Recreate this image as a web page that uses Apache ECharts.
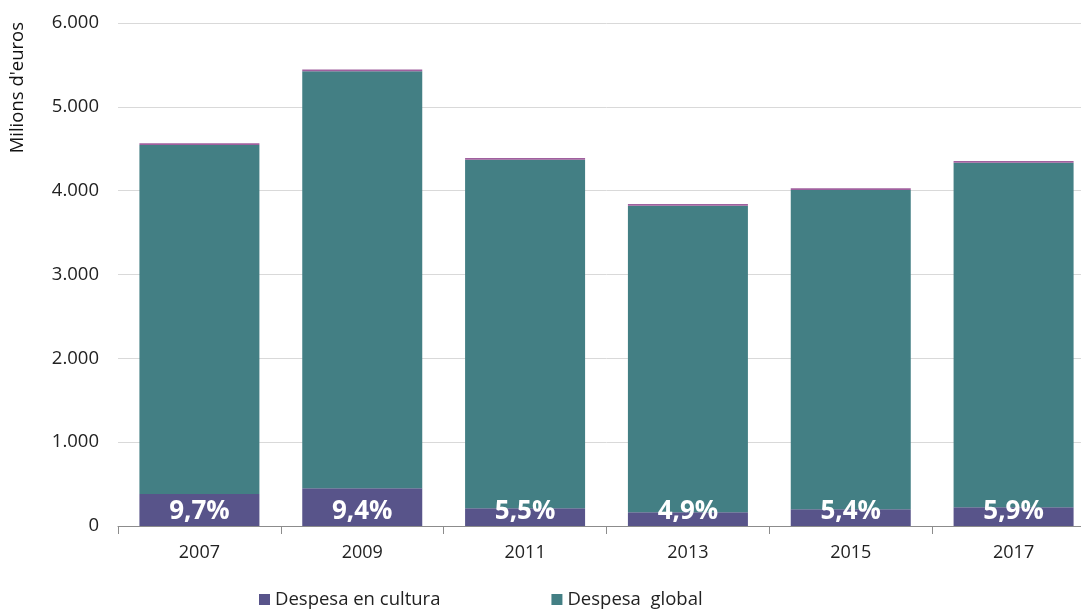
<!DOCTYPE html>
<html><head><meta charset="utf-8">
<script src="https://cdn.jsdelivr.net/npm/echarts@6/dist/echarts.min.js"></script>
<style>html,body{margin:0;padding:0;background:#fff;overflow:hidden}#c{width:1096px;height:610px}</style>
</head><body><div id="c"></div>
<script>
const categories = ['2007','2009','2011','2013','2015','2017'];
const cultura = [382, 450, 211, 163, 199, 223];
const global = [4163, 4974, 4159, 3658, 3809, 4111];
const altres = [20, 20, 20, 20, 20, 20];
const percentLabels = ['9,7%','9,4%','5,5%','4,9%','5,4%','5,9%'];
const yTicks = [0,1000,2000,3000,4000,5000,6000];

const chart = echarts.init(document.getElementById('c'));
const fmt = v => v === 0 ? '0' : String(v).replace(/\B(?=(\d{3})+(?!\d))/g, '.');
chart.setOption({
  animation: false,
  textStyle: { fontFamily: 'Open Sans' },
  grid: { left: 118, top: 23, right: 1, bottom: 84, containLabel: false },
  legend: {
    data: ['Despesa en cultura', 'Despesa  global'],
    left: 254, bottom: -4, itemWidth: 11, itemHeight: 11, itemGap: 111,
    icon: 'rect',
    textStyle: { fontSize: 18.5, color: '#222', fontFamily: 'Open Sans' }
  },
  xAxis: {
    type: 'category', data: categories,
    axisLine: { lineStyle: { color: '#8c8c8c' } },
    axisTick: { show: true, length: 8, lineStyle: { color: '#8c8c8c' } },
    axisLabel: { fontSize: 18, color: '#222', margin: 18 }
  },
  yAxis: {
    type: 'value', min: 0, max: 6000, interval: 1000,
    axisLine: { show: false }, axisTick: { show: false },
    splitLine: { lineStyle: { color: '#d9d9d9' } },
    axisLabel: { fontSize: 18.5, color: '#222', margin: 19, formatter: fmt }
  },
  graphic: [{
    type: 'text', left: 8, top: 22, rotation: Math.PI / 2,
    style: { text: "Milions d'euros", fontSize: 18.5, fill: '#111', fontFamily: 'Open Sans' }
  }],
  series: [
    {
      name: 'Despesa en cultura', type: 'bar', stack: 't', barWidth: 120,
      data: cultura, itemStyle: { color: '#58548a' },
      label: {
        show: true, position: 'insideBottom', distance: 1,
        formatter: p => percentLabels[p.dataIndex],
        color: '#fff', fontSize: 26, fontWeight: 'bold', fontFamily: 'Open Sans'
      }
    },
    { name: 'Despesa  global', type: 'bar', stack: 't', data: global, itemStyle: { color: '#437f84' } },
    { name: 'Altres', type: 'bar', stack: 't', data: altres, itemStyle: { color: '#a0609e' } }
  ]
});
</script></body></html>
